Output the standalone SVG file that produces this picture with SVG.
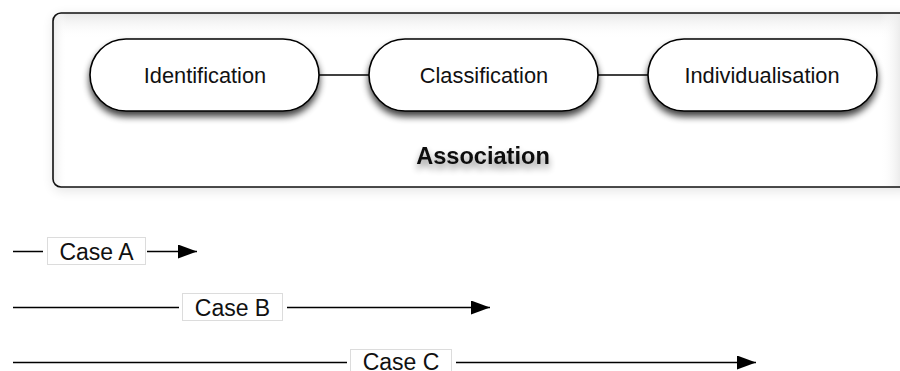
<svg xmlns="http://www.w3.org/2000/svg" width="900" height="371" viewBox="0 0 900 371">
  <style>
    .pill { fill: #ffffff; stroke: #000000; stroke-width: 1.6; }
    .pill-text { font-family: "Liberation Sans", Arial, sans-serif; font-size: 21.8px; fill: #111111; text-anchor: middle; }
    .link { stroke: #000000; stroke-width: 1.3; fill: none; }
    .case-line { stroke: #000000; stroke-width: 1.5; fill: none; }
    .case-label { fill: #ffffff; stroke: #dcdcdc; stroke-width: 1; }
    .case-text { font-family: "Liberation Sans", Arial, sans-serif; font-size: 23px; fill: #111111; text-anchor: middle; }
    .group-title { font-family: "Liberation Sans", Arial, sans-serif; font-size: 23.6px; font-weight: bold; fill: #111111; text-anchor: middle; }
  </style>
  <defs>
    <filter id="dropShadow" x="-20%" y="-30%" width="140%" height="180%">
      <feGaussianBlur in="SourceAlpha" stdDeviation="3.5"/>
      <feOffset dx="0" dy="5" result="blur"/>
      <feComponentTransfer>
        <feFuncA type="linear" slope="0.75"/>
      </feComponentTransfer>
      <feMerge>
        <feMergeNode/>
        <feMergeNode in="SourceGraphic"/>
      </feMerge>
    </filter>
    <filter id="textShadow" x="-20%" y="-50%" width="140%" height="220%">
      <feGaussianBlur in="SourceAlpha" stdDeviation="3.5"/>
      <feOffset dx="0" dy="5" result="blur"/>
      <feComponentTransfer>
        <feFuncA type="linear" slope="0.45"/>
      </feComponentTransfer>
      <feMerge>
        <feMergeNode/>
        <feMergeNode in="SourceGraphic"/>
      </feMerge>
    </filter>
    <filter id="halo" x="-10%" y="-30%" width="120%" height="160%">
      <feGaussianBlur stdDeviation="6"/>
    </filter>
    <linearGradient id="shadeTop" x1="0" y1="0" x2="0" y2="1">
      <stop offset="0" stop-color="#e6e6e6"/>
      <stop offset="1" stop-color="#ffffff" stop-opacity="0"/>
    </linearGradient>
    <linearGradient id="shadeLeft" x1="0" y1="0" x2="1" y2="0">
      <stop offset="0" stop-color="#ececec"/>
      <stop offset="1" stop-color="#ffffff" stop-opacity="0"/>
    </linearGradient>
    <linearGradient id="shadeRight" x1="1" y1="0" x2="0" y2="0">
      <stop offset="0" stop-color="#ececec"/>
      <stop offset="1" stop-color="#ffffff" stop-opacity="0"/>
    </linearGradient>
    <clipPath id="frameClip">
      <rect x="53" y="13" width="860" height="174" rx="8"/>
    </clipPath>
    <marker id="arrow" viewBox="0 0 19 14" refX="19" refY="7" markerWidth="19" markerHeight="14" markerUnits="userSpaceOnUse" orient="auto">
      <path d="M0,0 L19,7 L0,14 Z" fill="#000000"/>
    </marker>
  </defs>

  <rect width="900" height="371" fill="#ffffff"/>

  <!-- Association frame with soft outer halo and inner shading -->
  <g id="association">
    <rect x="53" y="15" width="860" height="176" rx="8" fill="#000000" opacity="0.1" filter="url(#halo)"/>
    <rect x="53" y="13" width="860" height="174" rx="8" fill="#ffffff"/>
    <g clip-path="url(#frameClip)">
      <rect x="53" y="13" width="860" height="26" fill="url(#shadeTop)"/>
      <rect x="53" y="13" width="14" height="174" fill="url(#shadeLeft)"/>
      <rect x="880" y="13" width="20" height="174" fill="url(#shadeRight)"/>
    </g>
    <rect x="53" y="13" width="860" height="174" rx="8" fill="none" stroke="#111111" stroke-width="1.6"/>
    <text class="group-title" x="483" y="164" filter="url(#textShadow)">Association</text>
  </g>

  <!-- links between stages -->
  <g id="connectors">
    <line class="link" x1="319" y1="75" x2="369" y2="75"/>
    <line class="link" x1="598" y1="75" x2="648" y2="75"/>
  </g>

  <g id="identification">
    <rect class="pill" x="90" y="39" width="229" height="72" rx="36" filter="url(#dropShadow)"/>
    <text class="pill-text" x="205" y="83">Identification</text>
  </g>
  <g id="classification">
    <rect class="pill" x="369" y="39" width="229" height="72" rx="36" filter="url(#dropShadow)"/>
    <text class="pill-text" x="484" y="83">Classification</text>
  </g>
  <g id="individualisation">
    <rect class="pill" x="648" y="39" width="229" height="72" rx="36" filter="url(#dropShadow)"/>
    <text class="pill-text" x="762" y="83">Individualisation</text>
  </g>

  <!-- case arrows -->
  <g id="case-a">
    <line class="case-line" x1="13" y1="251.5" x2="197" y2="251.5" marker-end="url(#arrow)"/>
    <rect x="43" y="236" width="104" height="30" fill="#ffffff"/>
    <rect class="case-label" x="47.5" y="237.5" width="98" height="27"/>
    <text class="case-text" x="96.5" y="259.5">Case A</text>
  </g>
  <g id="case-b">
    <line class="case-line" x1="13" y1="307.5" x2="490" y2="307.5" marker-end="url(#arrow)"/>
    <rect x="179" y="292" width="108" height="30" fill="#ffffff"/>
    <rect class="case-label" x="182.5" y="293.5" width="100" height="27"/>
    <text class="case-text" x="232.5" y="315.5">Case B</text>
  </g>
  <g id="case-c">
    <line class="case-line" x1="13" y1="362.5" x2="756" y2="362.5" marker-end="url(#arrow)"/>
    <rect x="347" y="348" width="109" height="30" fill="#ffffff"/>
    <rect class="case-label" x="350.5" y="349.5" width="101" height="27"/>
    <text class="case-text" x="401" y="370">Case C</text>
  </g>
</svg>
